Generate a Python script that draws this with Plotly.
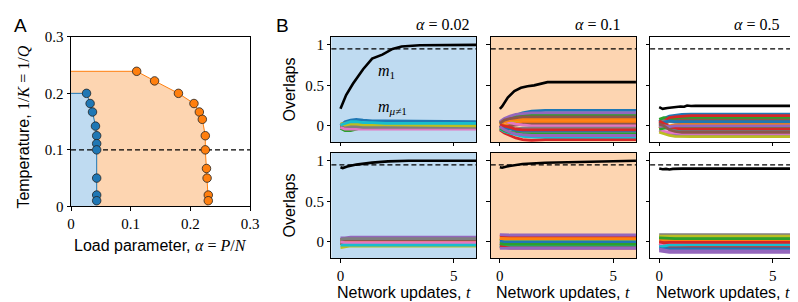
import plotly.graph_objects as go

# ---------------- Panel A data ----------------
BLUE_ALPHA = [0.026, 0.032, 0.036, 0.041, 0.043, 0.043, 0.043, 0.043, 0.043, 0.043]
BLUE_TEMP = [0.200, 0.182, 0.167, 0.142, 0.125, 0.111, 0.100, 0.050, 0.020, 0.010]
ORANGE_ALPHA = [0.110, 0.140, 0.180, 0.206, 0.215, 0.220, 0.225, 0.225, 0.227, 0.228, 0.230, 0.230]
ORANGE_TEMP = [0.239, 0.222, 0.200, 0.182, 0.167, 0.154, 0.125, 0.100, 0.067, 0.050, 0.020, 0.010]
A_TICKS = [0, 0.1, 0.2, 0.3]
A_TICKTEXT = ["0", "0.1", "0.2", "0.3"]
T_REF = 0.1

# ---------------- Panel B data ----------------
ALPHAS = ["0.02", "0.1", "0.5"]
B_XTICKS = [0, 5]
B_XTICKTEXT = ["0", "5"]
B_YTICKS = [0, 0.5, 1]
B_YTICKTEXT = ["0", "0.5", "1"]
M_REF = 0.95

# m1 curves (top row: noisy start, bottom row: start near pattern)
M1_TL_T = [0, 0.25, 0.55, 1.0, 1.4, 1.85, 2.3, 2.7, 3.5, 6.0]
M1_TL = [0.21, 0.38, 0.52, 0.70, 0.83, 0.88, 0.95, 0.98, 0.995, 1.0]
M1_TM_T = [0, 0.1, 0.35, 0.64, 0.93, 1.22, 1.51, 1.8, 2.1, 6.0]
M1_TM = [0.21, 0.24, 0.35, 0.43, 0.47, 0.49, 0.50, 0.52, 0.54, 0.54]
M1_TR_T = [0, 0.15, 0.36, 0.65, 0.94, 1.1, 1.23, 1.4, 1.6, 6.0]
M1_TR = [0.23, 0.21, 0.22, 0.23, 0.238, 0.235, 0.25, 0.245, 0.246, 0.246]
M1_BL_T = [0, 0.1, 0.3, 0.7, 1.4, 2.1, 3.0, 6.0]
M1_BL = [0.92, 0.91, 0.93, 0.953, 0.977, 0.993, 1.0, 1.0]
M1_BM_T = [0, 0.1, 0.3, 0.6, 1.0, 2.0, 3.2, 4.5, 6.0]
M1_BM = [0.92, 0.915, 0.93, 0.945, 0.96, 0.975, 0.985, 0.995, 1.0]
M1_BR_T = [0, 0.15, 0.3, 0.45, 0.6, 0.8, 1.0, 6.0]
M1_BR = [0.905, 0.895, 0.9, 0.893, 0.9, 0.905, 0.903, 0.903]

# other overlaps m_{mu != 1}, sampled at T_NOISE
T_NOISE = [0, 0.2, 0.45, 0.7, 1.0, 1.4, 2.0, 6.0]
NOISE_TL = [
    [0.00, 0.05, 0.07, 0.08, 0.07, 0.06, 0.06, 0.05],
    [0.01, 0.03, 0.04, 0.03, 0.03, 0.03, 0.02, 0.02],
    [-0.03, -0.06, -0.06, -0.04, -0.02, -0.01, 0.00, 0.01],
    [-0.01, -0.02, -0.03, -0.03, -0.03, -0.03, -0.03, -0.03],
    [0.02, 0.01, 0.00, 0.01, 0.00, 0.00, 0.00, 0.00],
    [0.00, -0.01, -0.01, -0.02, -0.01, -0.01, -0.01, -0.01],
    [-0.02, -0.04, -0.04, -0.04, -0.04, -0.04, -0.04, -0.04],
    [0.01, 0.00, -0.01, -0.01, -0.02, -0.02, -0.02, -0.02],
    [0.03, 0.01, 0.02, 0.02, 0.01, 0.01, 0.01, 0.00],
    [0.01, 0.03, 0.05, 0.05, 0.04, 0.04, 0.03, 0.03],
]
NOISE_TM = [
    [0.02, 0.06, 0.10, 0.13, 0.16, 0.18, 0.19, 0.19],
    [-0.02, 0.01, 0.03, 0.04, 0.05, 0.05, 0.05, 0.05],
    [0.04, 0.08, 0.10, 0.12, 0.13, 0.13, 0.13, 0.13],
    [-0.05, -0.09, -0.12, -0.15, -0.17, -0.18, -0.17, -0.17],
    [0.05, 0.09, 0.12, 0.14, 0.15, 0.16, 0.16, 0.16],
    [0.00, -0.02, 0.00, 0.01, 0.02, 0.02, 0.02, 0.02],
    [0.03, 0.05, 0.04, 0.02, 0.01, 0.00, 0.00, 0.00],
    [-0.02, -0.04, -0.03, -0.04, -0.03, -0.03, -0.03, -0.03],
    [0.01, 0.05, 0.07, 0.06, 0.08, 0.09, 0.10, 0.10],
    [-0.04, -0.07, -0.09, -0.11, -0.13, -0.14, -0.14, -0.14],
    [0.00, -0.03, -0.04, -0.06, -0.07, -0.07, -0.07, -0.07],
    [0.02, 0.05, 0.07, 0.07, 0.08, 0.08, 0.08, 0.08],
    [-0.03, -0.06, -0.08, -0.09, -0.10, -0.10, -0.10, -0.10],
    [0.01, 0.00, -0.02, -0.04, -0.05, -0.05, -0.05, -0.05],
    [-0.01, -0.05, -0.08, -0.10, -0.11, -0.12, -0.12, -0.12],
    [0.03, 0.07, 0.09, 0.10, 0.11, 0.11, 0.11, 0.11],
]
NOISE_TR = [
    [0.05, 0.09, 0.12, 0.13, 0.14, 0.145, 0.145, 0.145],
    [-0.03, 0.02, 0.06, 0.08, 0.10, 0.11, 0.11, 0.11],
    [0.08, 0.10, 0.09, 0.09, 0.09, 0.09, 0.09, 0.09],
    [0.02, 0.06, 0.10, 0.11, 0.12, 0.125, 0.125, 0.125],
    [-0.06, -0.08, -0.10, -0.11, -0.115, -0.115, -0.115, -0.115],
    [0.00, 0.03, 0.05, 0.06, 0.07, 0.07, 0.07, 0.07],
    [-0.05, -0.07, -0.08, -0.09, -0.095, -0.095, -0.095, -0.095],
    [0.04, 0.06, 0.05, 0.04, 0.035, 0.035, 0.035, 0.035],
    [-0.08, -0.10, -0.12, -0.13, -0.135, -0.135, -0.135, -0.135],
    [0.01, -0.02, -0.04, -0.055, -0.06, -0.06, -0.06, -0.06],
    [0.03, 0.04, 0.06, 0.05, 0.05, 0.05, 0.05, 0.05],
    [-0.02, -0.01, 0.00, 0.01, 0.015, 0.015, 0.015, 0.015],
    [-0.04, -0.03, -0.02, -0.02, -0.02, -0.02, -0.02, -0.02],
    [0.06, 0.03, -0.01, -0.03, -0.04, -0.04, -0.04, -0.04],
    [-0.01, 0.00, -0.01, 0.00, 0.00, 0.00, 0.00, 0.00],
    [0.02, 0.00, -0.05, -0.07, -0.08, -0.08, -0.08, -0.08],
]
NOISE_BL = [
    [0.00, 0.01, 0.01, 0.00, 0.00, 0.00, 0.00, 0.00],
    [0.02, 0.01, 0.01, 0.01, 0.01, 0.01, 0.01, 0.01],
    [-0.02, -0.03, -0.03, -0.03, -0.03, -0.03, -0.03, -0.03],
    [-0.02, -0.02, -0.03, -0.02, -0.02, -0.02, -0.02, -0.02],
    [0.05, 0.05, 0.06, 0.06, 0.06, 0.06, 0.06, 0.06],
    [0.03, 0.03, 0.03, 0.03, 0.03, 0.03, 0.03, 0.03],
    [0.00, -0.01, -0.01, -0.01, -0.01, -0.01, -0.01, -0.01],
    [0.03, 0.04, 0.04, 0.04, 0.04, 0.04, 0.04, 0.04],
    [-0.07, -0.06, -0.05, -0.05, -0.05, -0.05, -0.05, -0.05],
    [-0.04, -0.04, -0.04, -0.04, -0.04, -0.04, -0.04, -0.04],
]
NOISE_BM = [
    [-0.05, -0.06, -0.06, -0.06, -0.06, -0.06, -0.06, -0.06],
    [0.06, 0.05, 0.05, 0.05, 0.05, 0.05, 0.05, 0.05],
    [0.02, 0.03, 0.03, 0.03, 0.03, 0.03, 0.03, 0.03],
    [0.08, 0.07, 0.065, 0.065, 0.065, 0.065, 0.065, 0.065],
    [0.09, 0.085, 0.085, 0.085, 0.085, 0.085, 0.085, 0.085],
    [-0.03, -0.04, -0.04, -0.04, -0.04, -0.04, -0.04, -0.04],
    [0.00, 0.00, -0.005, -0.01, -0.01, -0.01, -0.01, -0.01],
    [-0.01, -0.02, -0.025, -0.025, -0.025, -0.025, -0.025, -0.025],
    [0.03, 0.02, 0.015, 0.015, 0.015, 0.015, 0.015, 0.015],
    [-0.07, -0.06, -0.05, -0.05, -0.05, -0.05, -0.05, -0.05],
    [0.01, 0.00, 0.00, 0.00, 0.00, 0.00, 0.00, 0.00],
    [0.04, 0.04, 0.04, 0.04, 0.04, 0.04, 0.04, 0.04],
    [-0.02, -0.03, -0.03, -0.03, -0.03, -0.03, -0.03, -0.03],
    [-0.06, -0.07, -0.075, -0.075, -0.075, -0.075, -0.075, -0.075],
    [-0.08, -0.08, -0.08, -0.08, -0.08, -0.08, -0.08, -0.08],
]
NOISE_BR = [
    [-0.05, -0.06, -0.07, -0.07, -0.07, -0.07, -0.07, -0.07],
    [0.04, 0.035, 0.03, 0.03, 0.03, 0.03, 0.03, 0.03],
    [0.06, 0.055, 0.05, 0.05, 0.05, 0.05, 0.05, 0.05],
    [-0.02, -0.04, -0.05, -0.05, -0.05, -0.05, -0.05, -0.05],
    [-0.11, -0.12, -0.13, -0.13, -0.13, -0.13, -0.13, -0.13],
    [0.00, 0.01, 0.01, 0.01, 0.01, 0.01, 0.01, 0.01],
    [-0.03, -0.02, -0.02, -0.02, -0.02, -0.02, -0.02, -0.02],
    [0.09, 0.09, 0.09, 0.09, 0.09, 0.09, 0.09, 0.09],
    [0.07, 0.07, 0.07, 0.07, 0.07, 0.07, 0.07, 0.07],
    [-0.06, -0.05, -0.04, -0.04, -0.035, -0.035, -0.035, -0.035],
    [-0.08, -0.09, -0.09, -0.09, -0.09, -0.09, -0.09, -0.09],
    [0.02, 0.02, 0.015, 0.015, 0.015, 0.015, 0.015, 0.015],
    [0.05, 0.045, 0.04, 0.04, 0.04, 0.04, 0.04, 0.04],
    [0.00, -0.01, -0.005, -0.005, -0.005, -0.005, -0.005, -0.005],
    [-0.09, -0.10, -0.11, -0.11, -0.11, -0.11, -0.11, -0.11],
]

TAB10 = ["#1f77b4", "#ff7f0e", "#2ca02c", "#d62728", "#9467bd",
         "#8c564b", "#e377c2", "#7f7f7f", "#bcbd22", "#17becf"]
BLUE_BG = "#bfdbf1"
ORANGE_BG = "#fdd5b1"

W, H = 798, 302
def px(x):
    return x / W
def py(y):
    return 1 - y / H

SERIF = "Liberation Serif"
SANS = "Liberation Sans"
TICK_SIZE = 15
LABEL_SIZE = 16
XLABEL_SIZE = 16

fig = go.Figure()

# ---------- Panel A ----------
fig.add_trace(go.Scatter(
    x=[0, 0] + ORANGE_ALPHA + [ORANGE_ALPHA[-1]],
    y=[0, ORANGE_TEMP[0]] + ORANGE_TEMP + [0],
    fill="toself", fillcolor=ORANGE_BG, mode="none", hoverinfo="skip",
    xaxis="x", yaxis="y", showlegend=False))
fig.add_trace(go.Scatter(
    x=[0, 0] + BLUE_ALPHA + [BLUE_ALPHA[-1]],
    y=[0, BLUE_TEMP[0]] + BLUE_TEMP + [0],
    fill="toself", fillcolor=BLUE_BG, mode="none", hoverinfo="skip",
    xaxis="x", yaxis="y", showlegend=False))
fig.add_trace(go.Scatter(
    x=[0] + ORANGE_ALPHA, y=[ORANGE_TEMP[0]] + ORANGE_TEMP, mode="lines",
    line=dict(color="#ff7f0e", width=1), xaxis="x", yaxis="y", showlegend=False))
fig.add_trace(go.Scatter(
    x=[0] + BLUE_ALPHA, y=[BLUE_TEMP[0]] + BLUE_TEMP, mode="lines",
    line=dict(color="#1f77b4", width=1), xaxis="x", yaxis="y", showlegend=False))
fig.add_trace(go.Scatter(
    x=[0, A_TICKS[-1]], y=[T_REF, T_REF], mode="lines",
    line=dict(color="black", width=1.3, dash="5px,3px"),
    xaxis="x", yaxis="y", showlegend=False))
fig.add_trace(go.Scatter(
    x=BLUE_ALPHA, y=BLUE_TEMP, mode="markers",
    marker=dict(color="#1f77b4", size=8.5, line=dict(color="#222", width=0.8)),
    xaxis="x", yaxis="y", showlegend=False, cliponaxis=False))
fig.add_trace(go.Scatter(
    x=ORANGE_ALPHA, y=ORANGE_TEMP, mode="markers",
    marker=dict(color="#ff7f0e", size=8.5, line=dict(color="#222", width=0.8)),
    xaxis="x", yaxis="y", showlegend=False, cliponaxis=False))

# ---------- Panel B ----------
panels = [
    (2, M1_TL_T, M1_TL, NOISE_TL),
    (3, M1_TM_T, M1_TM, NOISE_TM),
    (4, M1_TR_T, M1_TR, NOISE_TR),
    (5, M1_BL_T, M1_BL, NOISE_BL),
    (6, M1_BM_T, M1_BM, NOISE_BM),
    (7, M1_BR_T, M1_BR, NOISE_BR),
]
for idx, mt, mv, noise in panels:
    for i, line in enumerate(noise):
        fig.add_trace(go.Scatter(
            x=T_NOISE, y=line, mode="lines",
            line=dict(color=TAB10[i % 10], width=2.8),
            xaxis=f"x{idx}", yaxis=f"y{idx}", showlegend=False, hoverinfo="skip"))
    fig.add_trace(go.Scatter(
        x=mt, y=mv, mode="lines", line=dict(color="black", width=2.6),
        xaxis=f"x{idx}", yaxis=f"y{idx}", showlegend=False))

# ---------- Axes ----------
axis_common = dict(showline=True, mirror=True, linecolor="black", linewidth=1,
                   ticks="outside", ticklen=3.5, tickwidth=1, tickcolor="black",
                   showgrid=False, zeroline=False,
                   tickfont=dict(family=SERIF, size=TICK_SIZE, color="black"))

layout = dict(
    width=W, height=H, autosize=False,
    margin=dict(l=0, r=0, t=0, b=0),
    paper_bgcolor="white", plot_bgcolor="white",
    font=dict(family=SANS, size=LABEL_SIZE, color="black"),
    showlegend=False,
)
layout["xaxis"] = dict(axis_common, domain=[px(60), px(242)], range=[0, 0.3],
                       tickvals=A_TICKS, ticktext=A_TICKTEXT, anchor="y")
layout["yaxis"] = dict(axis_common, domain=[py(201), py(22)], range=[0, 0.3],
                       tickvals=A_TICKS, ticktext=A_TICKTEXT, anchor="x")

cols = [(324.7, 472.0), (486.7, 634.3), (648.7, 796.3)]
rows = [(22.0, 133.0), (144.3, 255.7)]
for r in range(2):
    for c in range(3):
        idx = 2 + r * 3 + c
        layout[f"xaxis{idx}"] = dict(axis_common, domain=[px(cols[c][0]), px(cols[c][1])],
                                     range=[-0.4, 6.0], tickvals=B_XTICKS,
                                     ticktext=B_XTICKTEXT,
                                     showticklabels=(r == 1), anchor=f"y{idx}")
        layout[f"yaxis{idx}"] = dict(axis_common, domain=[py(rows[r][1]), py(rows[r][0])],
                                     range=[-0.2, 1.1], tickvals=B_YTICKS,
                                     ticktext=B_YTICKTEXT,
                                     showticklabels=(c == 0), anchor=f"x{idx}")

shapes = []
for idx, col in [(2, BLUE_BG), (5, BLUE_BG), (3, ORANGE_BG), (6, ORANGE_BG)]:
    shapes.append(dict(type="rect", xref=f"x{idx} domain", yref=f"y{idx} domain",
                       x0=0, x1=1, y0=0, y1=1, fillcolor=col, line=dict(width=0),
                       layer="below"))
for idx in range(2, 8):
    shapes.append(dict(type="line", xref=f"x{idx} domain", yref=f"y{idx}",
                       x0=0, x1=1, y0=M_REF, y1=M_REF,
                       line=dict(color="black", width=1.3, dash="5px,3px")))
layout["shapes"] = shapes

serif_span = '<span style="font-family:Liberation Serif">'
ann = []
ann.append(dict(text="A", x=px(0), y=py(10), xref="paper", yref="paper",
                xanchor="left", yanchor="middle", showarrow=False,
                font=dict(family=SANS, size=19)))
ann.append(dict(text="B", x=px(266), y=py(10), xref="paper", yref="paper",
                xanchor="left", yanchor="middle", showarrow=False,
                font=dict(family=SANS, size=19)))
ann.append(dict(text="Temperature, " + serif_span + "1/<i>K</i> = 1/<i>Q</i></span>",
                x=px(12), y=py(117), xref="paper", yref="paper", textangle=-90,
                xanchor="center", yanchor="middle", showarrow=False,
                font=dict(family=SANS, size=LABEL_SIZE)))
ann.append(dict(text="Load parameter, " + serif_span + "<i>α</i> = <i>P</i>/<i>N</i></span>",
                x=px(151), y=py(242), xref="paper", yref="paper",
                xanchor="center", yanchor="middle", showarrow=False,
                font=dict(family=SANS, size=LABEL_SIZE)))
title_x = [437.5, 595.3, 757.3]
for c in range(3):
    ann.append(dict(text="<i>α</i> = " + ALPHAS[c], x=px(title_x[c]), y=py(9),
                    xref="paper", yref="paper", xanchor="center", yanchor="middle",
                    showarrow=False, font=dict(family=SERIF, size=LABEL_SIZE)))
    ann.append(dict(text="Network updates, " + serif_span + "<i>t</i></span>",
                    x=px((cols[c][0] + cols[c][1]) / 2), y=py(292),
                    xref="paper", yref="paper", xanchor="center", yanchor="middle",
                    showarrow=False, font=dict(family=SANS, size=XLABEL_SIZE)))
for r in range(2):
    ann.append(dict(text="Overlaps", x=px(281.7), y=py((rows[r][0] + rows[r][1]) / 2),
                    xref="paper", yref="paper", textangle=-90, xanchor="center",
                    yanchor="middle", showarrow=False, font=dict(family=SANS, size=LABEL_SIZE)))
ann.append(dict(text="<i>m</i><sub>1</sub>", x=1.55, y=0.67, xref="x2", yref="y2",
                xanchor="left", yanchor="middle", showarrow=False,
                font=dict(family=SERIF, size=LABEL_SIZE)))
ann.append(dict(text="<i>m</i><sub><i>μ</i>≠1</sub>", x=1.55, y=0.23, xref="x2", yref="y2",
                xanchor="left", yanchor="middle", showarrow=False,
                font=dict(family=SERIF, size=LABEL_SIZE)))
layout["annotations"] = ann

fig.update_layout(**layout)
fig.write_html("out.html")
